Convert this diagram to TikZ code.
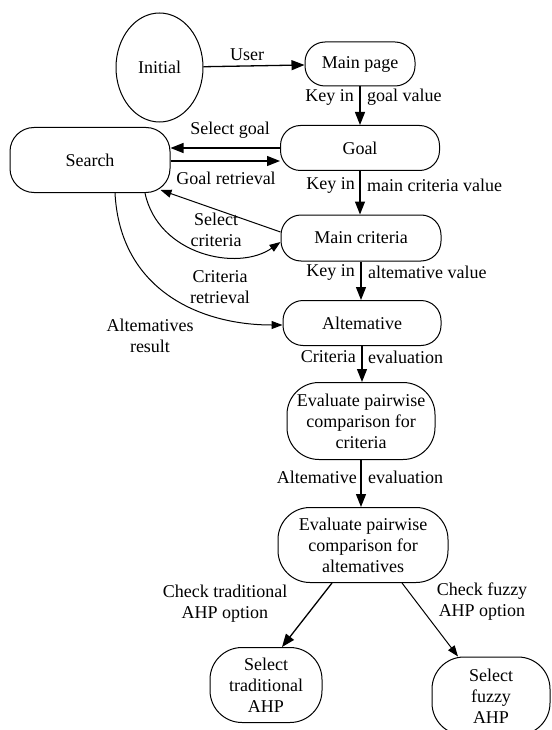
\documentclass[tikz,border=0pt]{standalone}
\usepackage{fontspec}
\setmainfont{Liberation Serif}
\usetikzlibrary{arrows.meta,calc,shapes.geometric}
\begin{document}
\begin{tikzpicture}[x=1pt,y=-1pt,
  every node/.style={font=\fontsize{18}{21}\selectfont},
  box/.style={draw,line width=1pt,rounded corners=20pt,inner sep=0pt,align=center},
  tall/.style={box,rounded corners=32pt},
  lbl/.style={inner sep=0pt,align=center},
  arr/.style={line width=1.3pt,-{Triangle[length=13pt,width=10pt]}},
  thinarr/.style={line width=1pt,-{Triangle[length=11pt,width=8pt]}}]
\useasboundingbox (0,0) rectangle (551,730);
% states
\node[draw,ellipse,line width=1pt,minimum width=87pt,minimum height=109pt,inner sep=0pt] (init) at (159.5,67.5) {Initial};
\node[box,minimum width=110pt,minimum height=44pt] (main) at (360,64) {Main page};
\node[box,minimum width=159pt,minimum height=45pt] (goal) at (360,148) {Goal};
\node[box,rounded corners=24pt,minimum width=160pt,minimum height=65pt] (search) at (90,160) {Search};
\node[box,minimum width=160pt,minimum height=46pt] (mc) at (361,238) {Main criteria};
\node[box,minimum width=158pt,minimum height=45pt] (alt) at (362,323) {Altemative};
\node[tall,minimum width=148pt,minimum height=77pt] (evc) at (361,421) {Evaluate pairwise\\comparison for\\criteria};
\node[tall,minimum width=170pt,minimum height=75pt] (eva) at (363,545) {Evaluate pairwise\\comparison for\\altematives};
\node[tall,minimum width=112pt,minimum height=75pt] (trad) at (266,685) {Select\\traditional\\AHP};
\node[tall,minimum width=118pt,minimum height=78pt] (fuzzy) at (491,696) {Select\\fuzzy\\AHP};
% connectors
\draw[arr] (init) -- (main);
\draw[arr] (main.south) -- (main.south |- goal.north);
\draw[arr] (goal.south) -- (goal.south |- mc.north);
\draw[arr] (mc.south) -- (mc.south |- alt.north);
\draw[arr] (alt.south) -- (alt.south |- evc.north);
\draw[arr] (evc.south) -- (evc.south |- eva.north);
\draw[arr] (goal.west) -- ($(search.east)+(0,-12)$);
\draw[arr] ($(search.east)+(0,1)$) -- ($(goal.west)+(0,13)$);
\draw[thinarr] ($(mc.west)+(0,-6)$) -- ($(search.south east)+(-10,-3)$);
\draw[thinarr] ($(search.south)+(55,0)$) .. controls (158,255) and (238,272) .. ($(mc.west)+(0,4)$);
\draw[thinarr] ($(search.south)+(25,0)$) .. controls (120,290) and (200,325) .. ($(alt.west)+(0,2)$);
\draw[arr] ($(eva.south)+(-31,0)$) -- ($(trad.north)+(16,0)$);
\draw[thinarr] ($(eva.south)+(39,0)$) -- ($(fuzzy.north)+(-33,0)$);
% labels
\node[lbl] (lUser) at (247,55) {User};
\node[lbl,anchor=east] (lK1a) at (354,97) {Key in};
\node[lbl,anchor=west] (lK1b) at (367,97) {goal value};
\node[lbl,anchor=east] (lK2a) at (355,185) {Key in};
\node[lbl,anchor=west] (lK2b) at (367,185) {main criteria value};
\node[lbl,anchor=east] (lK3a) at (355,272) {Key in};
\node[lbl,anchor=west] (lK3b) at (368,272) {altemative value};
\node[lbl,anchor=east] (lCEa) at (356,357) {Criteria};
\node[lbl,anchor=west] (lCEb) at (368,357) {evaluation};
\node[lbl,anchor=east] (lAEa) at (357,477) {Altemative};
\node[lbl,anchor=west] (lAEb) at (368,477) {evaluation};
\node[lbl] (lSG) at (230,130) {Select goal};
\node[lbl] (lGR) at (226,178) {Goal retrieval};
\node[lbl] (lSC) at (216,230) {Select\\criteria};
\node[lbl] (lCR) at (220,287) {Criteria\\retrieval};
\node[lbl] (lAR) at (150,336) {Altematives\\result};
\node[lbl] (lCT) at (225,604) {Check traditional\\AHP option};
\node[lbl] (lCF) at (482,602) {Check fuzzy\\AHP option};
\end{tikzpicture}
\end{document}
